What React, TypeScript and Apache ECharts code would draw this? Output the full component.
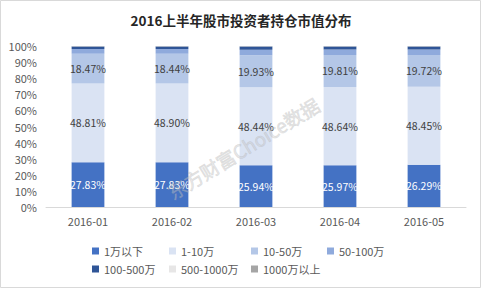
import React, { useEffect, useRef } from "react";
import * as echarts from "echarts";

const categories = ["2016-01", "2016-02", "2016-03", "2016-04", "2016-05"];
const seriesNames = ["1万以下", "1-10万", "10-50万", "50-100万", "100-500万", "500-1000万", "1000万以上"];
const below1w = [27.83, 27.83, 25.94, 25.97, 26.29];
const w1to10 = [48.81, 48.9, 48.44, 48.64, 48.45];
const w10to50 = [18.47, 18.44, 19.93, 19.81, 19.72];
const w50to100 = [2.95, 2.92, 3.4, 3.35, 3.3];
const w100to500 = [1.67, 1.64, 1.95, 1.9, 1.9];
const w500to1000 = [0.19, 0.19, 0.24, 0.23, 0.24];
const above1000w = [0.08, 0.08, 0.1, 0.1, 0.1];
const yTicks = [0, 10, 20, 30, 40, 50, 60, 70, 80, 90, 100];

const seriesValues = [below1w, w1to10, w10to50, w50to100, w100to500, w500to1000, above1000w];
const colors = ["#4472C4", "#DAE3F3", "#B4C7E7", "#8FAADC", "#2F5597", "#E7E6E6", "#A5A5A5"];
const labelColors = ["#FFFFFF", "#404040", "#404040", null, null, null, null];

const FONT = '"Noto Sans CJK SC", "Noto Sans", sans-serif';

export default function App() {
  const ref = useRef<HTMLDivElement>(null);
  useEffect(() => {
    document.body.style.margin = "0";
    const chart = echarts.init(ref.current!, null, { renderer: "svg" });
    const legendPos = [
      [92, 244], [169, 244], [251, 244], [327, 244],
      [92, 262], [169, 262], [251, 262],
    ];
    chart.setOption({
      animation: false,
      backgroundColor: "#ffffff",
      title: {
        text: "2016上半年股市投资者持仓市值分布",
        left: "center",
        top: 8,
        textStyle: { fontFamily: FONT, fontSize: 13.5, fontWeight: "bold", color: "#262626" },
      },
      grid: { left: 46, right: 16, top: 46, bottom: 83, containLabel: false },
      xAxis: {
        type: "category",
        data: categories,
        axisLine: { lineStyle: { color: "#D9D9D9" } },
        axisTick: { show: false },
        axisLabel: { color: "#595959", fontFamily: FONT, fontSize: 11, margin: 8 },
      },
      yAxis: {
        type: "value",
        min: yTicks[0],
        max: yTicks[yTicks.length - 1],
        interval: 10,
        splitLine: { show: false },
        axisLine: { show: false },
        axisTick: { show: false },
        axisLabel: { color: "#595959", fontFamily: FONT, fontSize: 11, margin: 9, formatter: "{value}%" },
      },
      legend: seriesNames.map((n, i) => ({
        data: [n],
        left: legendPos[i][0],
        top: legendPos[i][1],
        padding: 0,
        itemWidth: 7,
        itemHeight: 7,
        icon: "rect",
        selectedMode: false,
        textStyle: { color: "#595959", fontFamily: FONT, fontSize: 11, lineHeight: 14 },
      })),
      series: seriesNames.map((n, i) => ({
        name: n,
        type: "bar",
        stack: "total",
        barWidth: "39%",
        data: seriesValues[i],
        itemStyle: { color: colors[i] },
        label: labelColors[i]
          ? {
              show: true,
              position: "inside",
              color: labelColors[i],
              fontFamily: FONT,
              fontSize: 10.5,
              formatter: (p: any) => p.value.toFixed(2) + "%",
            }
          : { show: false },
      })),
      graphic: [
        {
          type: "rect",
          z: -10,
          shape: { x: 0.5, y: 0.5, width: 480, height: 287 },
          style: { fill: "none", stroke: "#D9D9D9", lineWidth: 1 },
        },
        {
          type: "text",
          x: 243,
          y: 148,
          rotation: 0.55,
          z: 100,
          style: {
            text: "东方财富Choice数据",
            fill: "rgba(200,200,200,0.4)",
            stroke: "rgba(150,150,150,0.25)",
            lineWidth: 0.8,
            fontFamily: FONT,
            fontSize: 19,
            align: "center",
            verticalAlign: "middle",
          },
        },
      ],
    });
    return () => chart.dispose();
  }, []);
  return <div ref={ref} style={{ width: 482, height: 290 }} />;
}
